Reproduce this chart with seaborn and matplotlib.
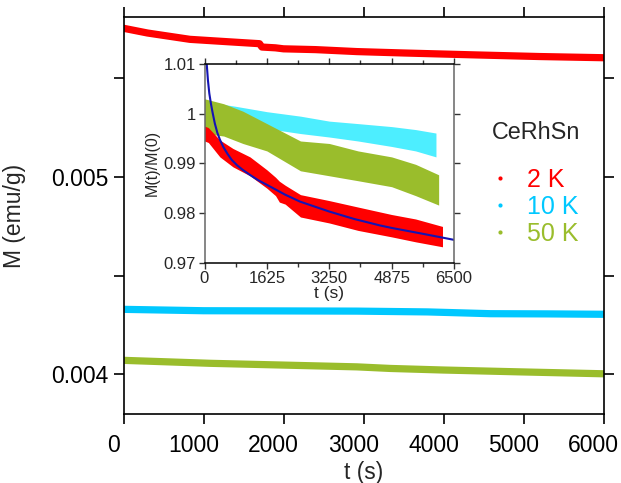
import numpy as np
import pandas as pd
import matplotlib
matplotlib.use("Agg")
import matplotlib.pyplot as plt
import matplotlib.transforms as mtransforms
from matplotlib.lines import Line2D
import seaborn as sns

# ---------------- data ----------------
# main panel: M(t) for each temperature
t_main_2K = [0, 300, 830, 1300, 1700, 1730, 1900, 2000, 2400, 2918, 3500, 4419, 5200, 6000]
M_main_2K = [0.005751, 0.005727, 0.005695, 0.005683, 0.005673, 0.005656, 0.005652, 0.005647,
             0.005643, 0.005633, 0.005626, 0.005616, 0.005608, 0.005602]
t_main_10K = [0, 1000, 2000, 2918, 3800, 4586, 5300, 6000]
M_main_10K = [0.004329, 0.004322, 0.004321, 0.004320, 0.004316, 0.004307, 0.004306, 0.004304]
t_main_50K = [0, 1082, 2000, 2918, 3334, 4000, 4920, 6000]
M_main_50K = [0.004071, 0.004056, 0.004047, 0.004038, 0.004030, 0.004022, 0.004013, 0.004003]

# inset: normalized M(t)/M(0), scatter clouds given by lower / upper envelopes
t_in_2K = [0, 100, 400, 740, 1185, 1625, 1850, 1950, 2100, 2500, 3250, 4000, 4875, 5500, 6200]
lo_in_2K = [0.9945, 0.9942, 0.9913, 0.9893, 0.9875, 0.9850, 0.9835, 0.9822, 0.9818, 0.9792,
            0.9780, 0.9765, 0.9752, 0.9742, 0.9732]
hi_in_2K = [0.9975, 0.9972, 0.9947, 0.9930, 0.9913, 0.9887, 0.9872, 0.9864, 0.9856, 0.9837,
            0.9825, 0.9812, 0.9797, 0.9788, 0.9773]
t_in_10K = [200, 800, 1625, 2500, 3250, 4000, 4875, 5500, 6030]
lo_in_10K = [0.9990, 0.9975, 0.9970, 0.9960, 0.9953, 0.9945, 0.9934, 0.9925, 0.9913]
hi_in_10K = [1.0022, 1.0015, 1.0004, 0.9995, 0.9985, 0.9980, 0.9974, 0.9968, 0.9961]
t_in_50K = [0, 500, 1000, 1625, 2500, 3250, 4000, 4875, 5500, 6100]
lo_in_50K = [0.9960, 0.9955, 0.9940, 0.9925, 0.9885, 0.9875, 0.9865, 0.9853, 0.9835, 0.9816]
hi_in_50K = [1.0030, 1.0020, 1.0005, 0.9980, 0.9945, 0.9940, 0.9925, 0.9913, 0.9898, 0.9877]
# fit curve
t_fit = [57, 90, 125, 170, 214, 270, 333, 400, 490, 600, 709, 850, 995, 1200, 1400, 1716,
         2100, 2488, 3250, 3900, 4572, 4875, 5700, 6500]
M_fit = [1.0101, 1.0067, 1.0041, 1.0019, 1.0001, 0.9980, 0.9962, 0.9948, 0.9933, 0.9919,
         0.9907, 0.9896, 0.9887, 0.9876, 0.9866, 0.9853, 0.9837, 0.9823, 0.9803, 0.9788,
         0.9775, 0.9770, 0.9758, 0.9746]

labels = ["2 K", "10 K", "50 K"]
x_ticks_main = [0, 1000, 2000, 3000, 4000, 5000, 6000]
y_ticks_main = [0.0040, 0.0045, 0.0050, 0.0055]
y_ticklabels_main = ["0.004", "", "0.005", ""]
x_ticks_in = [0, 1625, 3250, 4875, 6500]
y_ticks_in = [0.97, 0.98, 0.99, 1.00, 1.01]
y_ticklabels_in = ["0.97", "0.98", "0.99", "1", "1.01"]

# ---------------- style ----------------
sns.set_style("ticks")
plt.rcParams["font.family"] = ["Liberation Sans", "DejaVu Sans"]

RED = "#ff0000"
CYAN_MAIN = "#00c8ff"
CYAN_IN = "#4deeff"
GREEN = "#9abd2c"
BLUE = "#1414b4"

W, H = 621, 483
fig = plt.figure(figsize=(W / 100, H / 100), dpi=100)

# ---------------- main axes ----------------
ax = fig.add_axes([123.5 / W, 1 - 414.3 / H, 480 / W, (414.3 - 17) / H])
main_series = [(t_main_2K, M_main_2K, RED), (t_main_10K, M_main_10K, CYAN_MAIN),
               (t_main_50K, M_main_50K, GREEN)]
for (tt, mm, col), lab in zip(main_series, labels):
    df = pd.DataFrame({"t": tt, "M": mm})
    sns.lineplot(data=df, x="t", y="M", ax=ax, color=col, linewidth=5.2,
                 solid_capstyle="round", legend=False)

ax.set_xlim(0, 6000)
ax.set_ylim(0.003798, 0.005808)
ax.set_xticks(x_ticks_main)
ax.set_yticks(y_ticks_main)
ax.set_yticklabels(y_ticklabels_main)
ax.tick_params(axis="both", which="major", direction="out", length=7, width=1.2,
               labelsize=16.5, color="black", labelcolor="black")
ax.tick_params(axis="x", top=True, pad=7)
ax.tick_params(axis="y", right=True, pad=4)
for lab_ in ax.get_xticklabels():
    lab_.set_transform(lab_.get_transform() + mtransforms.ScaledTranslation(-10 / 100, 0, fig.dpi_scale_trans))
for sp in ax.spines.values():
    sp.set_linewidth(1.2)
    sp.set_color("black")
ax.set_xlabel("t (s)", fontsize=16.5, labelpad=3)
ax.set_ylabel("M (emu/g)", fontsize=16.5, labelpad=18)

# legend
fig.text(536 / W, 1 - 132 / H, "CeRhSn", fontsize=16.8, ha="center", va="center")
handles = [Line2D([], [], linestyle="none", marker="o", markersize=3, color=c, markeredgewidth=0)
           for c in (RED, CYAN_MAIN, GREEN)]
leg = ax.legend(handles, labels, loc="center left", bbox_to_anchor=(487 / W, 1 - 207 / H),
                bbox_transform=fig.transFigure, frameon=False, fontsize=18,
                handlelength=1.0, handletextpad=0.6, labelspacing=0.12,
                borderpad=0, borderaxespad=0,
                labelcolor=[RED, CYAN_MAIN, GREEN])

# ---------------- inset ----------------
axi = fig.add_axes([204.5 / W, 1 - 262.7 / H, 249.5 / W, (262.7 - 64) / H])
axi.fill_between(t_in_10K, lo_in_10K, hi_in_10K, color=CYAN_IN, linewidth=0)
axi.fill_between(t_in_50K, lo_in_50K, hi_in_50K, color=GREEN, linewidth=0)
axi.fill_between(t_in_2K, lo_in_2K, hi_in_2K, color=RED, linewidth=0)
sns.lineplot(x=t_fit, y=M_fit, ax=axi, color=BLUE, linewidth=1.5, legend=False)

axi.set_xlim(0, 6500)
axi.set_ylim(0.97, 1.01)
axi.set_xticks(x_ticks_in)
axi.set_xticks([812.5, 2437.5, 4062.5, 5687.5], minor=True)
axi.set_yticks(y_ticks_in)
axi.set_yticklabels(y_ticklabels_in)
axi.tick_params(axis="x", which="both", direction="out", top=True, labelsize=12, pad=2,
                color="#333333")
axi.tick_params(axis="x", which="major", length=4, width=1)
axi.tick_params(axis="x", which="minor", length=3, width=1)
axi.tick_params(axis="y", which="major", direction="out", length=4, width=1, labelsize=12,
                pad=2, color="#333333")
axi.tick_params(axis="y", which="major", right=True)
for sp in ("left", "right"):
    axi.spines[sp].set_color("#666666")
for sp in ("top", "bottom"):
    axi.spines[sp].set_color("black")
for sp in axi.spines.values():
    sp.set_linewidth(1.1)
axi.set_xlabel("t (s)", fontsize=12.5, labelpad=0)
axi.set_ylabel("M(t)/M(0)", fontsize=11.5, labelpad=3)

fig.savefig("out.png", dpi=100)
